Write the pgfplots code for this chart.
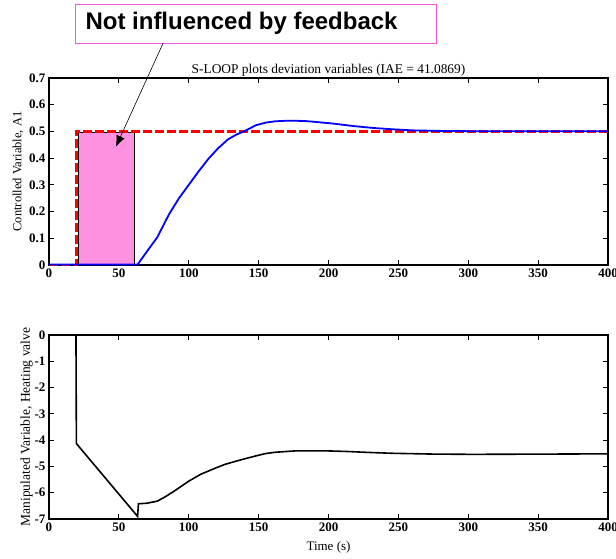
\documentclass[border=0pt]{standalone}
\usepackage{pgfplots}
\pgfplotsset{compat=1.18}
\usetikzlibrary{arrows.meta}
\usepackage{fontspec}
\setmainfont{Liberation Serif}
\newfontfamily\arialf{Liberation Sans}
\definecolor{pinkfill}{RGB}{255,145,225}
\definecolor{boxmag}{RGB}{245,90,215}
\begin{document}
\begin{tikzpicture}[x=1pt,y=1pt]
\clip (-49pt,-293pt) rectangle (567pt,265pt);
\pgfplotsset{
  every axis/.append style={
    scale only axis, width=559pt,
    xmin=0, xmax=400,
    xtick={0,50,...,400},
    tick align=inside,
    axis line style={line width=1.2pt},
    major tick length=5pt,
    tick style={line width=0.8pt, black},
    tick label style={font=\fontsize{13}{13}\selectfont\bfseries},
    label style={font=\fontsize{12.5}{13}\selectfont},
    /pgf/number format/assume math mode=true,
    clip=false,
  }
}
\begin{axis}[
  at={(0pt,0pt)}, anchor=south west,
  height=187pt,
  ymin=0, ymax=0.7,
  ytick={0,0.1,...,0.7},
  yticklabel style={/pgf/number format/fixed,/pgf/number format/precision=1},
  title={S-LOOP plots deviation variables (IAE = 41.0869)},
  title style={font=\fontsize{13.4}{14}\selectfont, yshift=-8pt},
  ylabel={Controlled Variable, A1},
  ylabel style={yshift=-1pt},
]
\addplot[draw=black, line width=0.6pt, fill=pinkfill] coordinates {(20.8,0) (20.8,0.497) (61,0.497) (61,0)} -- cycle;
\addplot[red, line width=2.6pt, dash pattern=on 9pt off 3pt] coordinates {(0,0) (19.5,0) (19.5,0.5) (400,0.5)};
\addplot[blue, line width=1.8pt] coordinates {
(0,0.002) (63.4,0.002) (70,0.05) (77.5,0.104) (85.9,0.19) (93,0.25) (100,0.30) (107,0.35) (114,0.397)
(121,0.437) (128,0.47) (134,0.488) (139.4,0.50) (148,0.523) (155,0.533) (162,0.538) (170,0.540) (176,0.540)
(183,0.539) (190,0.536) (204,0.529) (218,0.52) (232,0.513) (246,0.508) (260,0.504) (280,0.502) (300,0.501) (350,0.501) (400,0.501)};
\draw[boxmag, line width=1pt, fill=white] (axis cs:18.9,0.977) rectangle (axis cs:277.5,0.831);
\node[anchor=west, font=\arialf\bfseries\fontsize{24}{24}\selectfont, inner sep=0pt] at (axis cs:26,0.906) {Not influenced by feedback};
\draw[black, line width=0.6pt, -{Latex[length=11pt,width=9pt]}] (axis cs:81.7,0.831) -- (axis cs:47.9,0.443);
\end{axis}
\begin{axis}[
  at={(0pt,-254pt)}, anchor=south west,
  height=184pt,
  ymin=-7, ymax=0,
  ytick={-7,-6,...,0},
  ylabel={Manipulated Variable, Heating valve},
  ylabel style={font=\fontsize{13.5}{14}\selectfont, yshift=-5pt},
  xlabel={Time (s)},
  xlabel style={font=\fontsize{13}{14}\selectfont, yshift=-3pt},
]
\addplot[black, line width=1.6pt] coordinates {
(0,0) (19.3,0) (19.6,-4.13) (63.4,-6.9) (64,-6.42) (70,-6.4) (77.5,-6.32) (83,-6.16) (88.7,-5.97) (94,-5.78) (100,-5.56)
(108.5,-5.3) (119.7,-5.05) (126,-4.92) (133.8,-4.80) (140,-4.71) (148,-4.6) (155,-4.51) (162,-4.46) (176,-4.41) (200,-4.41)
(212.7,-4.43) (230,-4.47) (246,-4.5) (275,-4.53) (303,-4.54) (359,-4.53) (400,-4.52)};
\end{axis}
\end{tikzpicture}
\end{document}
